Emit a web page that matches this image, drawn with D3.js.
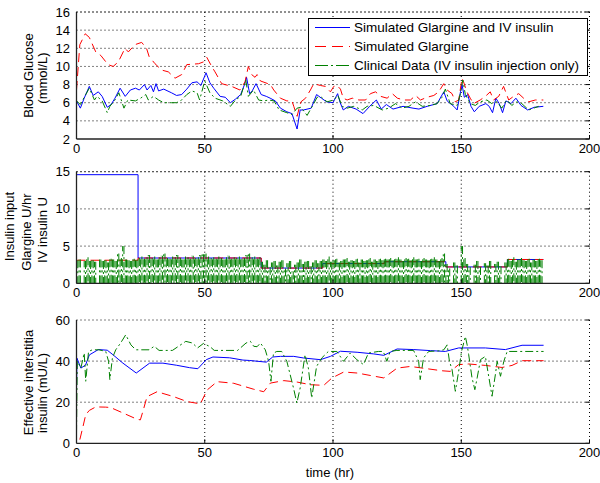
<!DOCTYPE html>
<html>
<head>
<meta charset="utf-8">
<title>Glargine and IV insulin simulation</title>
<style>
 body { margin: 0; background: #fff; }
 text { font-family: "Liberation Sans", Arial, sans-serif; font-size: 13px; fill: #000; }
</style>
</head>
<body>
<script src="https://cdn.jsdelivr.net/npm/d3@7"></script>
<script>
 // ---- data: [time (hr), value] ----
 var seriesNames = ["Simulated Glargine and IV insulin", "Simulated Glargine", "Clinical Data (IV insulin injection only)"];
 var xTicks = [0, 50, 100, 150, 200];
 var bgTicks = [2, 4, 6, 8, 10, 12, 14, 16];
 var rateTicks = [0, 5, 10, 15];
 var effTicks = [0, 20, 40, 60];

 // blood glucose (mmol/L)
 var bgBoth = [[0,6.2],[1.5,5.4],[3,6.5],[5,7.8],[6.5,6.8],[8.5,7.2],[10,6.7],[12,5.5],[13.5,5.8],[15,6.5],[17,7.6],[19,6.7],[21,7.4],[23,7.6],[24.5,7.4],[26.5,8.0],[27.5,7.4],[29,7.9],[30,7.2],[31,8.1],[32,7.3],[34,7.5],[37,7.1],[39,6.8],[41,6.9],[43,7.5],[45,8.2],[47,8.3],[48.5,7.9],[50.5,9.3],[52,8.2],[53.5,7.6],[56,6.7],[58,6.6],[60,6.0],[62,6.4],[64,6.9],[65.5,8.0],[66.3,8.8],[67.5,7.0],[68.5,7.3],[70,8.1],[72,6.9],[74,6.7],[75.5,6.5],[77.5,6.2],[79.5,5.4],[82,5.0],[84,4.8],[86,3.1],[87.2,5.2],[88.5,5.2],[91.5,5.4],[93.6,6.9],[95.5,6.5],[97.5,6.1],[100,6.0],[101.8,7.0],[102.8,6.0],[104,5.2],[106,5.6],[109,5.3],[111.7,4.8],[114.3,5.6],[116.9,6.3],[118.8,5.3],[120.8,5.8],[123.4,5.3],[127.3,5.6],[131.2,5.4],[133.5,5.3],[136.7,5.6],[140.6,5.9],[143.2,7.2],[144.5,6.2],[147.1,5.6],[148.4,5.2],[149.7,7.2],[150.3,8.0],[151.2,6.6],[152.5,6.9],[153.8,5.6],[155.1,5.0],[157,5.6],[159.6,5.9],[160.9,5.6],[162.2,4.9],[163.5,6.5],[164.8,5.9],[166.1,4.9],[167.4,6.2],[169.4,5.9],[171.3,6.5],[173.3,5.7],[175.9,5.2],[178.5,5.5],[182,5.6]];
 var bgGlargine = [[0,7.4],[1.3,12.4],[3.4,13.6],[5,13.2],[7.5,11.6],[9.5,11.2],[12.3,10.2],[14.3,10.0],[16.3,10.5],[18.9,12.0],[20.2,11.6],[22.8,12.4],[25.4,12.65],[27.3,12.0],[28.3,11.1],[30.6,10.3],[33.2,9.6],[35.8,9.4],[38.4,8.7],[41,9.1],[43,10.2],[47.6,10.3],[49.5,10.5],[50.8,11.0],[52.7,10.0],[54,9.4],[56.6,8.1],[60.5,7.8],[63.7,7.4],[65.7,8.3],[67,10.0],[68.3,9.1],[69.6,8.8],[70.4,9.1],[71.7,8.4],[75.6,8.0],[76.9,7.4],[79.5,6.5],[82,6.2],[84,6.2],[84.7,5.6],[86,4.5],[87,5.6],[87.5,6.1],[89.3,6.5],[91.2,7.4],[92.5,8.1],[95.1,7.9],[97,7.8],[99,7.2],[100.3,7.8],[101.6,7.9],[102.9,7.5],[104,6.5],[105.5,6.3],[107.5,6.5],[110.1,6.3],[112.7,6.3],[114.6,7.0],[116.6,7.2],[118.6,6.7],[121.1,6.5],[123.1,7.0],[125.1,6.5],[127.6,6.3],[130.2,6.3],[132.2,6.8],[134.1,6.3],[136.7,6.6],[139.3,6.8],[141.2,7.2],[143.2,8.1],[144.5,7.4],[146.4,7.0],[147.7,6.1],[149,6.3],[150.3,8.7],[150.9,8.3],[152.2,7.2],[153.5,6.5],[154.8,5.9],[157.4,6.3],[159.4,6.7],[161.3,7.2],[162.6,6.3],[164.6,6.7],[166.5,7.8],[168.5,6.3],[170.4,6.7],[172.4,7.0],[174.3,6.5],[176.3,6.1],[178.9,6.3],[182,6.3]];
 var bgClinical = [[0,6.2],[1.5,5.8],[3,6.6],[5,7.6],[7,6.3],[8,6.7],[10,6.2],[12,4.9],[13,5.6],[15,6.3],[16.5,7.1],[18.5,5.4],[20,6.3],[23,6.2],[25,6.5],[27,6.9],[28,6.3],[30,6.7],[32,6.3],[34,6.0],[37,6.0],[39,6.0],[41,6.3],[43,6.9],[45,7.3],[47,7.1],[48,6.3],[50,8.4],[52,7.1],[54,6.5],[57,6.2],[60,5.6],[62,6.3],[64,6.7],[66,8.5],[67,6.7],[69,7.4],[71,6.3],[73,6.2],[75,6.3],[77,6.2],[79,5.2],[82,4.9],[84,4.7],[86,5.4],[87.5,5.5],[89.9,4.6],[92.5,5.9],[93.8,6.6],[95.5,6.6],[97.7,6.1],[100.3,6.3],[101.9,6.8],[103.6,5.6],[105.5,5.4],[108.1,5.6],[111.4,5.2],[113.3,5.6],[115.9,5.7],[119.2,5.2],[121.7,5.4],[124.4,5.9],[127,5.4],[129.6,5.6],[132.2,6.1],[134.8,5.6],[138,5.7],[140.6,5.9],[142.5,6.6],[143.8,7.5],[145.7,5.9],[148.4,5.7],[149.7,7.0],[150.6,8.5],[151.6,6.9],[153.5,5.9],[155.5,5.7],[157.4,6.1],[160,6.3],[161.9,5.9],[163.9,6.1],[165.8,5.4],[167.8,6.3],[169.7,5.7],[171.7,6.1],[173.6,5.9],[176.3,5.2],[178.2,5.4],[180.2,5.6]];

 // insulin input: glargine steps (U/hr) start times, IV insulin per hour (U)
 var stepTimes = [0, 24, 72, 96, 120, 144, 168, 182];
 var rateBoth = [14.6, 3.4, 2.05, 2.65, 2.9, 2.2, 3.2, 3.2];
 var rateGlargine = [3.1, 3.4, 2.05, 2.65, 2.9, 2.2, 3.2, 3.2];
 var ivPerHour = [3.1,3.2,0,3.0,3.5,3.0,3.1,2.9,0,3.2,3.0,3.1,2.8,3.3,3.2,3.0,4.0,3.4,5.0,3.2,3.1,3.0,3.3,3.1,
  3.4,3.6,3.3,3.5,3.8,3.4,3.6,3.2,3.5,3.7,4.0,3.4,3.3,3.6,3.5,3.8,3.4,3.2,3.6,3.5,3.3,3.7,3.4,3.5,3.8,3.9,4.0,3.6,3.4,3.5,3.3,3.6,3.4,3.2,3.5,3.7,3.3,3.5,3.4,3.6,3.3,3.4,3.8,4.0,3.5,3.6,3.3,3.5,
  2.9,2.5,3.1,2.2,2.8,3.0,2.4,2.9,3.1,2.0,2.7,3.0,1.6,2.5,2.8,3.2,2.6,2.9,3.0,2.3,2.8,3.1,2.7,3.0,
  3.2,3.0,3.6,2.9,3.1,3.3,2.8,3.0,3.2,3.4,2.9,3.1,3.0,3.3,2.8,3.2,3.0,3.1,3.4,2.9,3.2,3.0,3.3,3.1,
  3.3,3.2,3.4,3.1,3.3,3.5,3.2,3.0,3.4,3.3,3.1,3.5,3.2,3.3,3.0,3.4,3.2,3.1,3.3,3.5,3.2,3.0,3.4,4.0,
  2.6,2.0,0,2.8,2.4,0,5.0,3.4,2.6,2.2,0,2.5,3.0,2.2,0,2.7,2.4,3.0,0,2.6,2.9,2.3,0,2.8,
  3.3,3.0,3.5,2.9,3.2,3.4,3.1,3.0,3.3,2.8,3.2,3.0,3.3,3.1];

 // effective interstitial insulin (mU/L)
 var effBoth = [[0,26],[0.2,41.4],[1.7,36.6],[3.5,38],[5,43],[8.5,45.6],[12,45.3],[14.2,43.1],[18.1,39],[23.3,34.2],[28.5,39],[33.7,39],[38.9,38],[44.1,36.8],[47.3,36.3],[50.6,40.7],[53.2,42],[59.7,41.6],[64.9,40.5],[67.5,40.3],[74,39.5],[76.5,42.0],[79.5,42.3],[84.7,42.3],[88.6,41.5],[95.1,40.7],[99,42.3],[102.9,44.8],[109.4,44.3],[115.9,43.5],[119.8,42.8],[125,45.9],[131.5,45.6],[138,45.1],[143.8,44.7],[149,46.4],[159.4,46.4],[167.2,45.6],[173.7,47.7],[182.1,47.7]];
 var effGlargine = [[1.3,1.8],[2.5,8],[3.6,13.9],[5,16],[7.5,17.7],[11.4,17.6],[13.3,17.4],[18.4,14.6],[23.6,11.7],[24.9,11.4],[26,16],[27.5,22.7],[31.4,25.1],[37.9,22.7],[43.1,20.3],[48.3,19.2],[50.9,25.9],[54.8,30],[61.3,29.2],[69.1,26.3],[73,25.1],[75.6,29.3],[80.8,30.5],[86,29.8],[91.2,28.5],[96.4,28.2],[99.6,31.8],[104.2,34.7],[109.4,34.2],[114.6,33.0],[119.8,31.8],[125,36.6],[130.2,37.4],[136,36.4],[142.5,35.3],[145.7,35.0],[149,38.3],[152.9,38.6],[159.4,37.9],[165.9,36.9],[169.8,37.9],[173.7,40.2],[182.1,40.2]];
 var effClinical = [[0,5],[0.3,40],[1.7,36.6],[3,43.9],[3.6,30.2],[4.7,44.7],[6.2,45.5],[8.8,45.5],[11.4,44.7],[12.5,39.9],[13,31],[14,41.5],[15.3,45.5],[17.2,48.8],[19.2,52.8],[21.2,47.9],[23.1,45.5],[28.3,45.5],[30.3,47.2],[32.2,45.2],[37.4,45.2],[42.6,49.6],[45.2,48.8],[47.2,46.4],[49.5,48.6],[52.1,47],[53.7,45.2],[62.8,45.2],[66.1,48.8],[67.8,49.6],[69.1,47.2],[70.4,47],[71.7,48.8],[73.6,45.5],[74.9,39.9],[75.8,30.2],[76.8,43.9],[78.1,44.7],[80,44.7],[82,39.9],[84.6,26.9],[85.9,19.6],[87.2,26.9],[89.1,43.1],[90.4,36.6],[91.7,22],[93.6,37.4],[95.6,41.5],[98.2,44.7],[101.5,44.7],[104.1,39.9],[106.7,43.9],[109.3,40.7],[111.9,38.3],[113.8,43.9],[117.7,44.7],[119.6,44.7],[121,39.9],[122.3,44.7],[124.9,45.2],[131.4,45.2],[133.4,39.9],[134,31],[135.3,41.5],[137.3,44.7],[141.2,45],[143.2,45.5],[144.5,47.9],[145.4,39.9],[146.4,35.9],[147.7,25.3],[149,35.1],[150.1,44.7],[151.6,52],[152.3,47.9],[152.9,43.1],[154.2,31.8],[155.3,26.1],[156.2,31.8],[157.5,40.7],[159.4,42.3],[160.7,32.6],[162,22.9],[163.3,33.4],[164,39.9],[165.3,32.6],[166.6,39.9],[167.9,44.7],[182.1,44.7]];

 var colors = ["#0000ff", "#ff0000", "#008000"];
 var dashes = [null, "9,5", "8,3,2,3"];

 var svg = d3.select("body").append("svg")
     .attr("width", 600).attr("height", 483);

 var x = d3.scaleLinear().domain([0, 200]).range([76.5, 589.5]);

 function panel(domain, range, ticks) {
     var y = d3.scaleLinear().domain(domain).range(range);
     var g = svg.append("g");
     var top = range[1], bottom = range[0];
     // dotted grid
     g.selectAll(".gx").data(xTicks.slice(1)).enter().append("line")
         .attr("x1", function(d){ return x(d); }).attr("x2", function(d){ return x(d); })
         .attr("y1", top).attr("y2", bottom)
         .attr("stroke", "#000").attr("stroke-dasharray", "1,3");
     g.selectAll(".gy").data(ticks.slice(1)).enter().append("line")
         .attr("x1", x(0)).attr("x2", x(200))
         .attr("y1", function(d){ return y(d); }).attr("y2", function(d){ return y(d); })
         .attr("stroke", "#000").attr("stroke-dasharray", "1,3");
     // inward ticks on the right side
     g.selectAll(".tr").data(ticks).enter().append("line")
         .attr("x1", x(200) - 4).attr("x2", x(200))
         .attr("y1", function(d){ return y(d); }).attr("y2", function(d){ return y(d); })
         .attr("stroke", "#000");
     // tick labels
     g.selectAll(".ly").data(ticks).enter().append("text")
         .attr("x", 70).attr("y", function(d){ return y(d) + 4.5; })
         .attr("text-anchor", "end").text(function(d){ return d; });
     g.selectAll(".lx").data(xTicks).enter().append("text")
         .attr("x", function(d){ return x(d); }).attr("y", bottom + 13.5)
         .attr("text-anchor", "middle").text(function(d){ return d; });
     return { g: g, y: y, top: top, bottom: bottom };
 }

 function axes(p) {
     var a = p.g.append("g");
     a.selectAll(".tb").data(xTicks).enter().append("line")
         .attr("x1", function(d){ return x(d); }).attr("x2", function(d){ return x(d); })
         .attr("y1", p.bottom - 4).attr("y2", p.bottom).attr("stroke", "#000");
     a.append("line").attr("x1", x(0)).attr("x2", x(0)).attr("y1", p.top).attr("y2", p.bottom)
         .attr("stroke", "#222").attr("stroke-width", 1.3);
     a.append("line").attr("x1", x(0)).attr("x2", x(200)).attr("y1", p.bottom).attr("y2", p.bottom)
         .attr("stroke", "#222").attr("stroke-width", 1.3);
 }

 function drawLine(p, data, i, curve) {
     var line = d3.line()
         .defined(function(d){ return d != null; })
         .x(function(d){ return x(d[0]); })
         .y(function(d){ return p.y(d[1]); })
         .curve(curve || d3.curveLinear);
     p.g.append("path").datum(data)
         .attr("d", line)
         .attr("fill", "none")
         .attr("stroke", colors[i])
         .attr("stroke-width", 1)
         .attr("stroke-dasharray", dashes[i]);
 }

 function ylabel(lines) {
     lines.forEach(function(l){
         svg.append("text")
             .attr("transform", "translate(" + l[0] + "," + l[1] + ") rotate(-90)")
             .attr("text-anchor", "middle").text(l[2]);
     });
 }

 // ---- panel 1: blood glucose ----
 var p1 = panel([2, 16], [139, 12], bgTicks);
 svg.append("line").attr("x1", x(0)).attr("x2", x(200)).attr("y1", 12).attr("y2", 12)
     .attr("stroke", "#000").attr("stroke-dasharray", "1,3");
 drawLine(p1, bgBoth, 0);
 drawLine(p1, bgGlargine, 1);
 drawLine(p1, bgClinical, 2);
 axes(p1);
 ylabel([[32.5, 75.5, "Blood Glucose"], [46.5, 78, "(mmol/L)"]]);

 // legend
 var lg = svg.append("g");
 lg.append("rect").attr("x", 308.5).attr("y", 18.5).attr("width", 279).attr("height", 57)
     .attr("fill", "#fff").attr("stroke", "#000");
 seriesNames.forEach(function(name, i){
     var ly = 27.5 + i * 19;
     lg.append("line").attr("x1", 315).attr("x2", 350).attr("y1", ly).attr("y2", ly)
         .attr("stroke", colors[i]).attr("stroke-dasharray", i == 2 ? "13,3,2,3" : (i == 1 ? "11,6" : null));
     lg.append("text").attr("x", 354).attr("y", ly + 4.5)
         .style("font-size", "13.5px").text(name);
 });

 // ---- panel 2: insulin input ----
 var p2 = panel([0, 15], [283.3, 171.7], rateTicks);
 svg.append("line").attr("x1", x(0)).attr("x2", x(200)).attr("y1", 171.7).attr("y2", 171.7)
     .attr("stroke", "#000").attr("stroke-dasharray", "1,3");
 var stepBoth = stepTimes.map(function(t, i){ return [t, rateBoth[i]]; });
 var stepGlar = stepTimes.map(function(t, i){ return [t, rateGlargine[i]]; });
 drawLine(p2, stepBoth, 0, d3.curveStepAfter);
 drawLine(p2, stepGlar, 1, d3.curveStepAfter);
 // IV insulin: each hourly injection drawn as a pair of vertical strokes
 var stems = [];
 ivPerHour.forEach(function(v, h){
     if (v > 0) stems.push([h, 0], [h, v], null, [h + 0.5, v], [h + 0.5, 0], null);
 });
 drawLine(p2, stems, 2);
 axes(p2);
 ylabel([[14, 226.5, "Insulin input"], [30.5, 232, "Glargine U/hr"], [46.5, 230, "IV insulin U"]]);

 // ---- panel 3: effective interstitial insulin ----
 var p3 = panel([0, 60], [443.3, 320], effTicks);
 drawLine(p3, effBoth, 0);
 drawLine(p3, effGlargine, 1);
 drawLine(p3, effClinical, 2);
 axes(p3);
 ylabel([[32.5, 382.5, "Effective interstitia"], [46.5, 393, "insulin (mU/L)"]]);

 svg.append("text").attr("x", 330).attr("y", 477).attr("text-anchor", "middle").text("time (hr)");
</script>
</body>
</html>
